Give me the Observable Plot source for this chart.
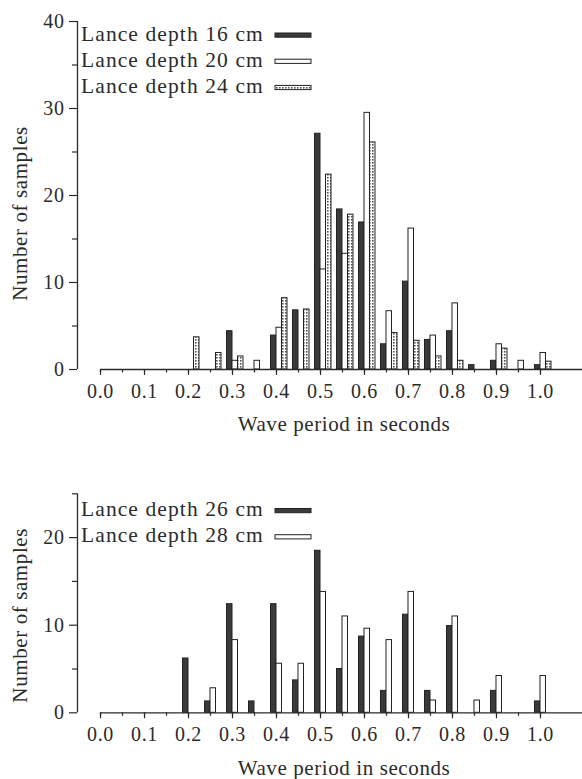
<!DOCTYPE html>
<html><head><meta charset="utf-8">
<script src="https://cdn.jsdelivr.net/npm/d3@7"></script>
<script src="https://cdn.jsdelivr.net/npm/@observablehq/plot@0.6"></script>
<style>
body{margin:0;background:#fff;}
#top,#bottom{width:582px;}
#top svg,#bottom svg{display:block;}
svg text{letter-spacing:0.6px;}
</style></head><body>
<div id="top"></div><div id="bottom"></div>
<script>
// Wave period bins (seconds)
const periods = [0.2,0.25,0.3,0.35,0.4,0.45,0.5,0.55,0.6,0.65,0.7,0.75,0.8,0.85,0.9,0.95,1.0];
// Top panel: number of samples
const depth16 = [0,0,4.4,0,3.9,6.8,27.1,18.4,16.9,2.9,10.1,3.4,4.4,0.5,1.0,0,0.5];
const depth20 = [0,0,1.0,1.0,4.8,0,11.5,13.3,29.5,6.7,16.2,3.9,7.6,0,2.9,1.0,1.9];
const depth24 = [3.7,1.9,1.5,0,8.2,6.9,22.4,17.8,26.1,4.2,3.3,1.5,1.0,0,2.4,0,0.9];
// Bottom panel
const depth26 = [6.2,1.3,12.4,1.3,12.4,3.7,18.5,5.0,8.7,2.5,11.2,2.5,9.9,0,2.5,0,1.3];
const depth28 = [0,2.8,8.3,0,5.6,5.6,13.8,11.0,9.6,8.3,13.8,1.4,11.0,1.4,4.2,0,4.2];

const xTickLabels = [0,0.1,0.2,0.3,0.4,0.5,0.6,0.7,0.8,0.9,1.0];
const xMinorTicks = d3.range(0,21).map(i => i/20);
const yTicksTop = [0,10,20,30,40];
const yMinorTop = [5,15,25,35];
const yTicksBottom = [0,10,20];
const yMinorBottom = [5,15,25];

const labelsTop = ["Lance depth 16 cm","Lance depth 20 cm","Lance depth 24 cm"];
const labelsBottom = ["Lance depth 26 cm","Lance depth 28 cm"];
const xTitle = "Wave period in seconds";
const yTitle = "Number of samples";

const INK = "#2b2b2b";
const DARK = "#3a3a3a";
const bw = 0.0125;
const xLeft = -0.0523, xRight = 1.0955;
const FONT = "Liberation Serif, Times New Roman, serif";

function panel({series, yMax, yMajor, yMinor, height, marginTop, marginBottom, titleDy}) {
  const marks = [];
  series.forEach(s => {
    const rows = periods.map((p, i) => ({p, v: s.values[i]})).filter(d => d.v > 0);
    marks.push(Plot.rectY(rows, {
      x1: d => d.p + s.off * bw, x2: d => d.p + (s.off + 1) * bw,
      y1: 0, y2: "v", fill: s.fill, stroke: "#222", strokeWidth: 1, inset: 0
    }));
  });
  marks.push(
    Plot.ruleY([0], {x1: 0, x2: xRight, stroke: INK, strokeWidth: 1.3}),
    Plot.ruleX([xLeft], {y1: 0, y2: yMax, stroke: INK, strokeWidth: 1.3}),
    Plot.axisX({ticks: xMinorTicks, tickSize: 3.5, tickFormat: () => "", label: null, strokeWidth: 1.2}),
    Plot.axisX({ticks: xTickLabels, tickSize: 6, tickPadding: 8, tickFormat: d3.format(".1f"), label: null, strokeWidth: 1.2}),
    Plot.axisY({ticks: yMinor, tickSize: 5, tickFormat: () => "", label: null, strokeWidth: 1.2}),
    Plot.axisY({ticks: yMajor, tickSize: 8, tickPadding: 5, label: null, strokeWidth: 1.2}),
    Plot.text([yTitle], {frameAnchor: "left", textAnchor: "middle", lineAnchor: "middle", rotate: -90, dx: -57, dy: titleDy, fontSize: 21, fill: INK}),
    Plot.text([xTitle], {frameAnchor: "bottom", textAnchor: "middle", lineAnchor: "middle", dx: 14, dy: 55, fontSize: 21, fill: INK})
  );
  return Plot.plot({
    width: 582, height, marginLeft: 77, marginRight: 0, marginTop, marginBottom,
    x: {domain: [xLeft, xRight]},
    y: {domain: [0, yMax]},
    style: {background: "white", color: INK, fontFamily: FONT, fontSize: "20px"},
    marks
  });
}

function addLegend(svg, items, baseline) {
  const g = d3.select(svg).append("g");
  items.forEach((it, i) => {
    const y = baseline + i * 26.2;
    g.append("text").attr("x", 81).attr("y", y).text(it.label)
      .attr("text-anchor", "start")
      .attr("font-size", 21.5).attr("fill", INK).attr("font-family", FONT)
      .style("letter-spacing", "1.1px");
    g.append("rect").attr("x", 275).attr("y", y - 7.5).attr("width", 36).attr("height", 4.2)
      .attr("fill", it.fill).attr("stroke", "#222").attr("stroke-width", 1);
  });
}

const topSvg = panel({
  series: [
    {values: depth16, off: -1, fill: DARK},
    {values: depth20, off: 0, fill: "white"},
    {values: depth24, off: 1, fill: "url(#dots)"}
  ],
  yMax: 40, yMajor: yTicksTop, yMinor: yMinorTop,
  height: 440, marginTop: 21, marginBottom: 71, titleDy: 18
});
const defs = document.createElementNS("http://www.w3.org/2000/svg", "defs");
defs.innerHTML = '<pattern id="dots" width="3" height="3" patternUnits="userSpaceOnUse"><rect width="3" height="3" fill="#fff"/><rect width="1.6" height="1.6" fill="#555"/></pattern>';
topSvg.insertBefore(defs, topSvg.firstChild);
addLegend(topSvg, [
  {label: labelsTop[0], fill: DARK},
  {label: labelsTop[1], fill: "white"},
  {label: labelsTop[2], fill: "url(#dots)"}
], 40.5);
document.getElementById("top").appendChild(topSvg);

const botSvg = panel({
  series: [
    {values: depth26, off: -1, fill: DARK},
    {values: depth28, off: 0, fill: "white"}
  ],
  yMax: 25, yMajor: yTicksBottom, yMinor: yMinorBottom,
  height: 339, marginTop: 53.3, marginBottom: 66.7, titleDy: 12
});
addLegend(botSvg, [
  {label: labelsBottom[0], fill: DARK},
  {label: labelsBottom[1], fill: "white"}
], 76);
document.getElementById("bottom").appendChild(botSvg);
</script>
</body></html>
